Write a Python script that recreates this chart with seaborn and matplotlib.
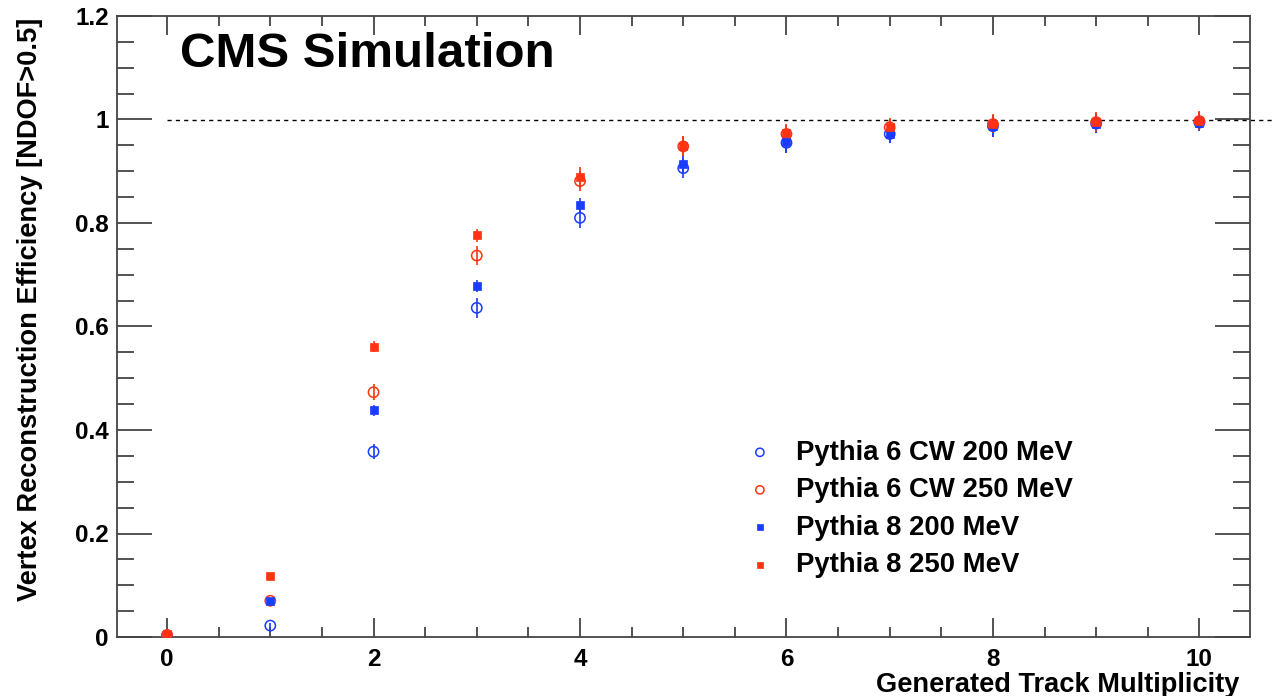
import numpy as np
import pandas as pd
import matplotlib
matplotlib.use("Agg")
import matplotlib.pyplot as plt
from matplotlib.ticker import MultipleLocator, FuncFormatter
import seaborn as sns

# ---- data ----
multiplicity = [0, 1, 2, 3, 4, 5, 6, 7, 8, 9, 10]

p6_200 = [0.003, 0.022, 0.358, 0.636, 0.810, 0.906, 0.955, 0.972, 0.987, 0.992, 0.994]
p6_200_err = [0.003, 0.006, 0.015, 0.019, 0.020, 0.020, 0.020, 0.018, 0.020, 0.018, 0.016]

p6_250 = [0.004, 0.070, 0.473, 0.737, 0.881, 0.948, 0.972, 0.985, 0.991, 0.995, 0.997]
p6_250_err = [0.004, 0.006, 0.015, 0.018, 0.020, 0.020, 0.017, 0.016, 0.018, 0.018, 0.018]

p8_200 = [0.003, 0.069, 0.438, 0.678, 0.834, 0.914, 0.956, 0.972, 0.988, 0.992, 0.994]
p8_200_err = [0.003, 0.005, 0.011, 0.011, 0.015, 0.016, 0.020, 0.017, 0.021, 0.018, 0.016]

p8_250 = [0.005, 0.118, 0.561, 0.776, 0.888, 0.949, 0.974, 0.986, 0.992, 0.995, 0.998]
p8_250_err = [0.003, 0.005, 0.011, 0.013, 0.020, 0.020, 0.017, 0.016, 0.019, 0.019, 0.019]

labels = ["Pythia 6 CW 200 MeV", "Pythia 6 CW 250 MeV",
          "Pythia 8 200 MeV", "Pythia 8 250 MeV"]

BLUE = "#1a3cff"
RED = "#ff3311"

series = [
    (labels[0], p6_200, p6_200_err, BLUE, "open"),
    (labels[1], p6_250, p6_250_err, RED, "open"),
    (labels[2], p8_200, p8_200_err, BLUE, "filled"),
    (labels[3], p8_250, p8_250_err, RED, "filled"),
]

sns.set_theme(style="ticks")
plt.rcParams["font.family"] = ["Liberation Sans", "DejaVu Sans"]
plt.rcParams["font.weight"] = "bold"
plt.rcParams["text.color"] = "black"
plt.rcParams["axes.labelcolor"] = "black"

fig = plt.figure(figsize=(12.74, 6.96), dpi=100)
ax = fig.add_axes([117 / 1274, 59 / 696, 1133 / 1274, 621 / 696])

for name, vals, errs, col, kind in series:
    df = pd.DataFrame({"x": multiplicity, "y": vals, "err": errs})
    ax.errorbar(df["x"], df["y"], yerr=df["err"], fmt="none",
                ecolor=col, elinewidth=1.2, capsize=0, zorder=2)
    if kind == "open":
        sns.scatterplot(data=df, x="x", y="y", ax=ax, marker="o", s=55,
                        facecolor="none", edgecolor=col, linewidth=1.1,
                        label=name, zorder=3)
    else:
        sns.scatterplot(data=df, x="x", y="y", ax=ax, marker="s", s=32,
                        color=col, edgecolor=col, linewidth=0.5,
                        label=name, zorder=4)

# dashed reference line at efficiency = 1
ax.plot([0, 10.75], [1, 1], color="black", lw=1.0, ls=(0, (3, 3)),
        clip_on=False, zorder=1)

ax.set_xlim(-0.485, 10.49)
ax.set_ylim(0, 1.2)

ax.xaxis.set_major_locator(MultipleLocator(2))
ax.xaxis.set_minor_locator(MultipleLocator(0.5))
ax.yaxis.set_major_locator(MultipleLocator(0.2))
ax.yaxis.set_minor_locator(MultipleLocator(0.05))
fmt = FuncFormatter(lambda v, p: f"{v:g}")
ax.xaxis.set_major_formatter(fmt)
ax.yaxis.set_major_formatter(fmt)

spine_col = "#444444"
for sp in ax.spines.values():
    sp.set_visible(True)
    sp.set_color(spine_col)
    sp.set_linewidth(1.3)

ax.tick_params(axis="both", which="both", direction="in", top=True, right=True,
               colors=spine_col, width=1.3, labelcolor="black", labelsize=17.5)
ax.tick_params(axis="x", which="major", length=14, pad=8)
ax.tick_params(axis="x", which="minor", length=7)
ax.tick_params(axis="y", which="major", length=25, pad=6)
ax.tick_params(axis="y", which="minor", length=12)
for lab in ax.get_xticklabels() + ax.get_yticklabels():
    lab.set_fontweight("bold")

ax.set_xlabel("Generated Track Multiplicity", fontsize=19.6, fontweight="bold",
              loc="right")
ax.xaxis.set_label_coords(0.991, -0.057)
ax.set_ylabel("Vertex Reconstruction Efficiency [NDOF>0.5]", fontsize=19.6,
              fontweight="bold", loc="top")
ax.yaxis.set_label_coords(-0.0655, 0.997)

ax.text(0.056, 0.975, "CMS Simulation", transform=ax.transAxes,
        fontsize=35.5, fontweight="bold", ha="left", va="top")

leg = ax.legend(loc="upper left", bbox_to_anchor=(0.5565, 0.318),
                frameon=False, fontsize=19.8, handlelength=0.9,
                handletextpad=0.85, labelspacing=0.42, borderpad=0,
                borderaxespad=0, markerscale=0.8)
for t in leg.get_texts():
    t.set_fontweight("bold")

fig.savefig("out.png", dpi=100)
